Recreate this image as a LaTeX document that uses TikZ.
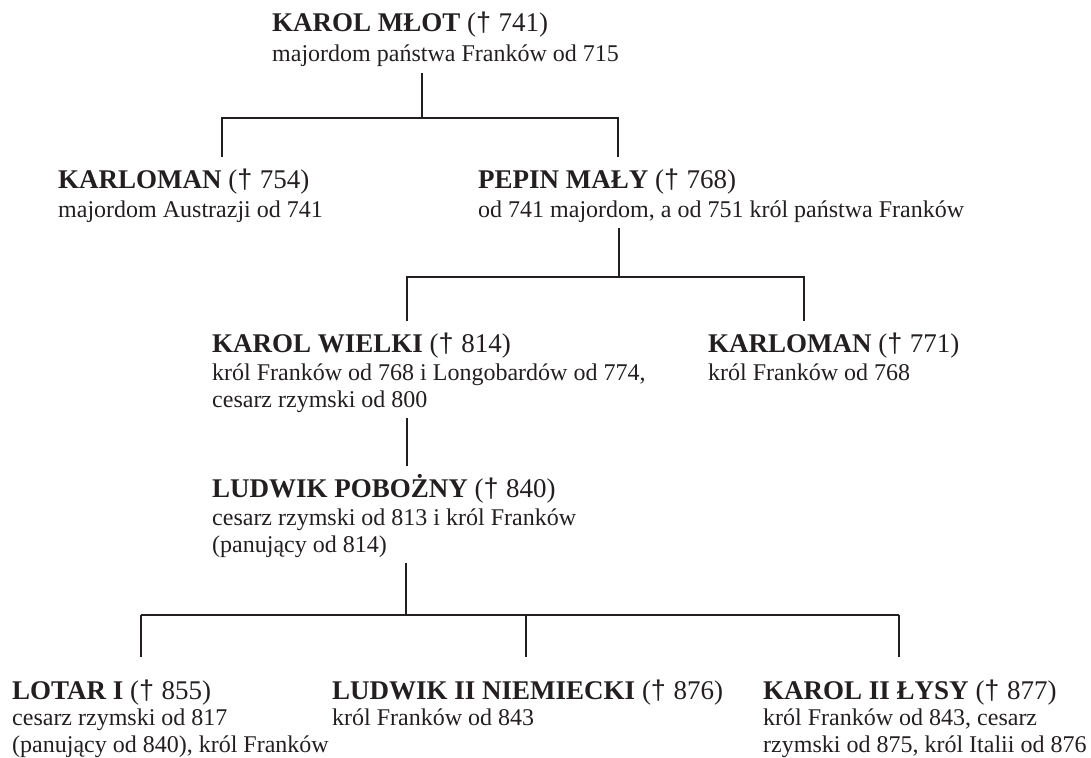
\documentclass[tikz,border=0pt]{standalone}
\usepackage{fontspec}
\setmainfont{Liberation Serif}
\newfontfamily\dagfont{Liberation Sans}
\definecolor{ink}{HTML}{231F20}
% (+ year) after a name
\newcommand\zm[1]{{\mdseries(\dagfont †\ \rmfamily #1)}}

\begin{document}
\begin{tikzpicture}[x=1pt, y=-1pt, color=ink,
    kingname/.style={anchor=base west, inner xsep=0pt, inner ysep=14pt, text height=17pt, text depth=0pt, font=\fontsize{27}{30}\selectfont\bfseries},
    kinginfo/.style={anchor=base west, inner xsep=0pt, inner ysep=6pt, align=left, font=\fontsize{24}{27}\selectfont},
    tie/.style={line width=1.8pt}]
  \useasboundingbox (0,0) rectangle (1091,757);

  % generation 1
  \node [kingname] (mlot) at (272,32) {KAROL MŁOT \zm{741}};
  \node [kinginfo] (mlotinfo) at (272,62) {majordom państwa Franków od 715};

  % generation 2
  \node [kingname] (karloman1) at (58,188) {KARLOMAN \zm{754}};
  \node [kinginfo] (karloman1info) at (58,217) {majordom Austrazji od 741};
  \node [kingname] (pepin) at (478,188) {PEPIN MAŁY \zm{768}};
  \node [kinginfo] (pepininfo) at (478,217) {od 741 majordom, a od 751 król państwa Franków};

  % generation 3 (two-line info sits on its last baseline)
  \node [kingname] (wielki) at (212,352) {KAROL WIELKI \zm{814}};
  \node [kinginfo] (wielkiinfo) at (212,407) {król Franków od 768 i Longobardów od 774,\\cesarz rzymski od 800};
  \node [kingname] (karloman2) at (708,352) {KARLOMAN \zm{771}};
  \node [kinginfo] (karloman2info) at (708,380) {król Franków od 768};

  % generation 4
  \node [kingname] (ludwik) at (212,497) {LUDWIK POBOŻNY \zm{840}};
  \node [kinginfo] (ludwikinfo) at (212,552) {cesarz rzymski od 813 i król Franków\\(panujący od 814)};

  % generation 5
  \node [kingname] (lotar) at (12,699) {LOTAR I \zm{855}};
  \node [kinginfo] (lotarinfo) at (12,752) {cesarz rzymski od 817\\(panujący od 840), król Franków};
  \node [kingname] (ludwik2) at (332,699) {LUDWIK II NIEMIECKI \zm{876}};
  \node [kinginfo] (ludwik2info) at (332,725) {król Franków od 843};
  \node [kingname] (karol2) at (763,699) {KAROL II ŁYSY \zm{877}};
  \node [kinginfo] (karol2info) at (763,752) {król Franków od 843, cesarz\\rzymski od 875, król Italii od 876};

  % forks
  \coordinate (f1) at (422,118);
  \coordinate (f1l) at (222,118);
  \coordinate (f1r) at (618,118);
  \coordinate (f2) at (619,277);
  \coordinate (f2l) at (407,277);
  \coordinate (f2r) at (804,277);
  \coordinate (f4) at (406,615);
  \coordinate (f4l) at (141,615);
  \coordinate (f4m) at (526,615);
  \coordinate (f4r) at (899,615);

  \draw [tie] (mlotinfo.south -| f1) -- (f1);
  \draw [tie] (karloman1.north -| f1l) -- (f1l) -- (f1r) -- (pepin.north -| f1r);
  \draw [tie] (pepininfo.south -| f2) -- (f2);
  \draw [tie] (wielki.north -| f2l) -- (f2l) -- (f2r) -- (karloman2.north -| f2r);
  \draw [tie] (wielkiinfo.south -| f2l) -- (ludwik.north -| f2l);
  \draw [tie] (ludwikinfo.south -| f4) -- (f4);
  \draw [tie] (f4l) -- (f4r);
  \foreach \k/\c in {lotar/f4l, ludwik2/f4m, karol2/f4r}
    \draw [tie, shorten >=11pt] (\c) -- (\k.north -| \c);
\end{tikzpicture}
\end{document}
